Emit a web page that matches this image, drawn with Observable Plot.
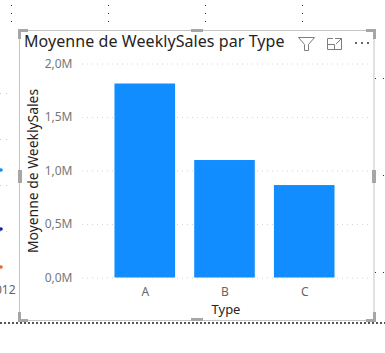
<!DOCTYPE html>
<html>
<head>
<meta charset="utf-8">
<script src="https://cdn.jsdelivr.net/npm/d3@7"></script>
<script src="https://cdn.jsdelivr.net/npm/@observablehq/plot@0.6"></script>
<style>
html,body{margin:0;padding:0;background:#fff;overflow:hidden}
#stage{position:relative;width:385px;height:353px;font-family:"Noto Sans",sans-serif}
#chart,#deco{position:absolute;left:0;top:0}
#title{position:absolute;left:24px;top:30px;font-size:16px;line-height:22px;color:#252423;white-space:nowrap;letter-spacing:.07px}
#cut{position:absolute;left:-5px;top:282px;font-size:12px;line-height:16px;color:#666}
</style>
</head>
<body>
<div id="stage">
<svg id="deco" width="385" height="353" fill="none">
  <g fill="#333">
    <rect x="11" y="5" width="1" height="1"/><rect x="11" y="13" width="1" height="1"/><rect x="11" y="21" width="1" height="1"/>
    <rect x="108" y="5" width="1" height="1"/><rect x="108" y="13" width="1" height="1"/><rect x="108" y="21" width="1" height="1"/>
    <rect x="205" y="5" width="1" height="1"/><rect x="205" y="13" width="1" height="1"/><rect x="205" y="21" width="1" height="1"/>
    <rect x="302" y="5" width="1" height="1"/><rect x="302" y="13" width="1" height="1"/><rect x="302" y="21" width="1" height="1"/>
    <rect x="375" y="78" width="1" height="1"/><rect x="383" y="78" width="1" height="1"/>
    <rect x="375" y="175" width="1" height="1"/><rect x="383" y="175" width="1" height="1"/>
    <rect x="375" y="272" width="1" height="1"/><rect x="383" y="272" width="1" height="1"/>
  </g>
  <path d="M0 93.5H8M0 139.5H8M0 185.5H8M0 231.5H8" stroke="#ccc" stroke-dasharray="1 5"/>
  <circle cx="1" cy="170" r="1.8" fill="#118dff"/>
  <circle cx="1" cy="229" r="1.8" fill="#12239e"/>
  <circle cx="1" cy="267" r="1.8" fill="#e66c37"/>
  <rect x="19.5" y="30.5" width="354.5" height="290" stroke="#c4c4c4"/>
  <path d="M0 323H385" stroke="#555" stroke-width="2" stroke-dasharray="2 2"/>
  <g fill="#a6a6a6">
    <path d="M18 29H28V32H21V39H18Z"/>
    <path d="M191 29H203V32H191Z"/>
    <path d="M366 29H376V39H373V32H366Z"/>
    <path d="M18 170H22V183H18Z"/>
    <path d="M372 170H376V183H372Z"/>
    <path d="M18 312H21V319H28V322H18Z"/>
    <path d="M191 318H203V321H191Z"/>
    <path d="M373 312H376V322H366V319H373Z"/>
  </g>
  <path d="M298.500 37.500H314.500L308.500 44.500V50.500H304.500V44.500Z" stroke="#7d7d7d"/>
  <path d="M327.500 38.500H333M341.500 44V49.500H327.500V38.500M327.500 44.500H334.500V49.500M335 38.500H341.500V44M341.500 38.500L336 44" stroke="#7d7d7d"/>
  <g fill="#666">
    <rect x="355" y="42" width="2" height="2"/><rect x="361" y="42" width="2" height="2"/><rect x="367" y="42" width="2" height="2"/>
  </g>
</svg>
<div id="chart"></div>
<div id="title">Moyenne de WeeklySales par Type</div>
<div id="cut">012</div>
</div>
<script>
const types = ["A", "B", "C"];
const meanWeeklySales = [1813000, 1098000, 864000];
const yTicks = [0, 500000, 1000000, 1500000, 2000000];
const yTickLabels = ["0,0M", "0,5M", "1,0M", "1,5M", "2,0M"];
const rows = types.map((t, i) => ({type: t, value: meanWeeklySales[i]}));

const plot = Plot.plot({
  width: 385,
  height: 353,
  marginLeft: 82,
  marginRight: 16,
  marginTop: 63.5,
  marginBottom: 75.5,
  style: {background: "transparent", fontFamily: "'Noto Sans',sans-serif", overflow: "visible"},
  x: {domain: types, paddingInner: 0.24, paddingOuter: 0.42, align: 0.485, round: false},
  y: {domain: [0, 2000000]},
  marks: [
    Plot.gridY(yTicks, {stroke: "#d4d4d4", strokeOpacity: 1, strokeDasharray: "1 4"}),
    Plot.barY(rows, {x: "type", y: "value", fill: "#118dff"}),
    Plot.axisY({
      ticks: yTicks,
      tickFormat: d => yTickLabels[yTicks.indexOf(d)],
      tickSize: 0,
      tickPadding: 10,
      fontSize: 12,
      color: "#777",
      label: null
    }),
    Plot.axisX({
      tickSize: 0,
      tickPadding: 9,
      fontSize: 12,
      color: "#666",
      label: null
    }),
    Plot.text(["Moyenne de WeeklySales"], {
      frameAnchor: "left", dx: -49, rotate: -90, textAnchor: "middle",
      fontSize: 13.9, fill: "#252423"
    }),
    Plot.text(["Type"], {
      frameAnchor: "bottom", dy: 36,
      fontSize: 13, fill: "#252423"
    })
  ]
});
document.getElementById("chart").appendChild(plot);
</script>
</body>
</html>
